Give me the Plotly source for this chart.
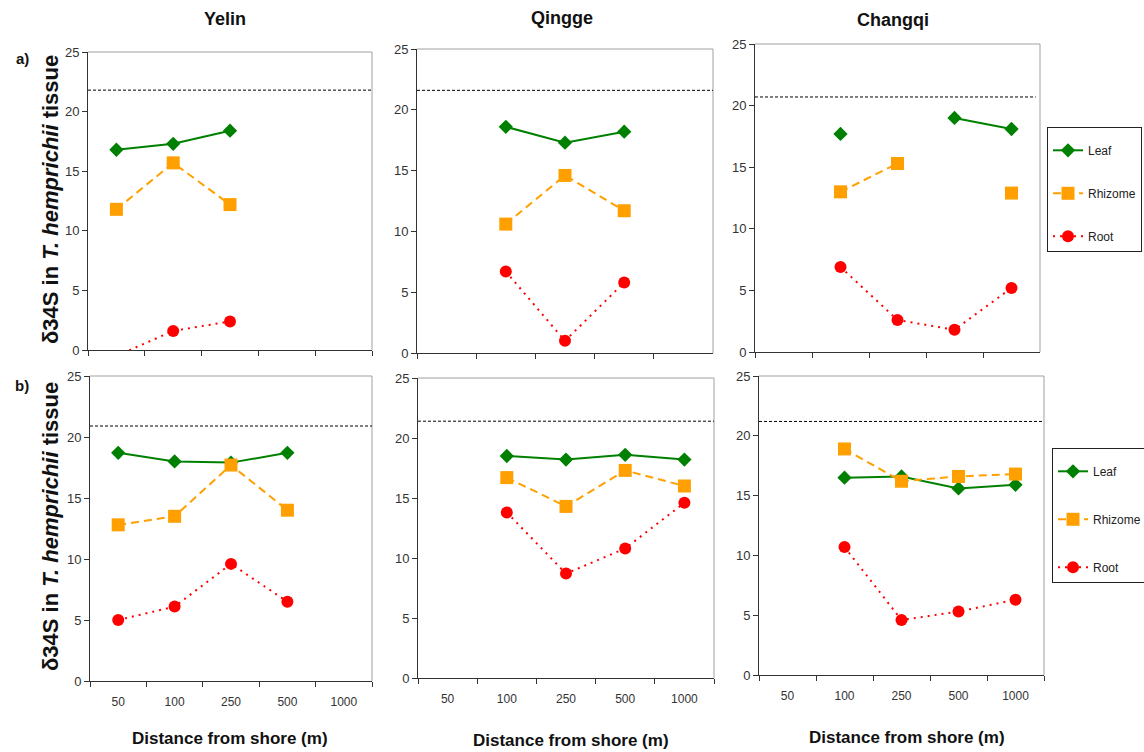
import plotly.graph_objects as go

W, H = 1144, 752

categories = ["50", "100", "250", "500", "1000"]
sites = ["Yelin", "Qingge", "Changqi"]
tissues = ["Leaf", "Rhizome", "Root"]
row_labels = ["a)", "b)"]

# Row a)
yelin_a_leaf = [16.8, 17.3, 18.4, None, None]
yelin_a_rhizome = [11.8, 15.7, 12.2, None, None]
yelin_a_root = [-0.5, 1.6, 2.4, None, None]
qingge_a_leaf = [None, 18.6, 17.3, 18.2, None]
qingge_a_rhizome = [None, 10.6, 14.6, 11.7, None]
qingge_a_root = [None, 6.7, 1.0, 5.8, None]
changqi_a_leaf = [None, 17.7, None, 19.0, 18.1]
changqi_a_rhizome = [None, 13.0, 15.3, None, 12.9]
changqi_a_root = [None, 6.9, 2.6, 1.8, 5.2]

# Row b)
yelin_b_leaf = [18.7, 18.0, 17.9, 18.7, None]
yelin_b_rhizome = [12.8, 13.5, 17.7, 14.0, None]
yelin_b_root = [5.0, 6.1, 9.6, 6.5, None]
qingge_b_leaf = [None, 18.5, 18.2, 18.6, 18.2]
qingge_b_rhizome = [None, 16.7, 14.3, 17.3, 16.0]
qingge_b_root = [None, 13.8, 8.7, 10.8, 14.6]
changqi_b_leaf = [None, 16.5, 16.6, 15.6, 15.9]
changqi_b_rhizome = [None, 18.9, 16.2, 16.6, 16.8]
changqi_b_root = [None, 10.7, 4.6, 5.3, 6.3]

# Reference (dashed) line values per panel
ref_a = [21.8, 21.6, 20.7]
ref_b = [20.9, 21.4, 21.2]

y_ticks = [0, 5, 10, 15, 20, 25]

panel_data = [
    (yelin_a_leaf, yelin_a_rhizome, yelin_a_root),
    (qingge_a_leaf, qingge_a_rhizome, qingge_a_root),
    (changqi_a_leaf, changqi_a_rhizome, changqi_a_root),
    (yelin_b_leaf, yelin_b_rhizome, yelin_b_root),
    (qingge_b_leaf, qingge_b_rhizome, qingge_b_root),
    (changqi_b_leaf, changqi_b_rhizome, changqi_b_root),
]
panel_refs = ref_a + ref_b

# Layout geometry (pixels)
panels_px = [
    (88, 372, 52, 350), (417, 713, 49, 353), (755, 1040, 44, 352),
    (90, 372, 376, 681), (418, 714, 378, 678), (759, 1044, 376, 675),
]

FONT = "Arial, Liberation Sans, Helvetica, sans-serif"
styles = {
    "Leaf": dict(color="#008000", symbol="diamond", size=11, dash="solid"),
    "Rhizome": dict(color="#FFA000", symbol="square", size=13, dash="8px,5px"),
    "Root": dict(color="#FF0000", symbol="circle", size=12, dash="2px,5px"),
}

fig = go.Figure()
layout = dict(
    width=W, height=H,
    margin=dict(l=0, r=0, t=0, b=0, autoexpand=False),
    paper_bgcolor="white", plot_bgcolor="white",
    font=dict(family=FONT, color="#222"),
    showlegend=True,
)
shapes = []
annotations = []

for i, (x0, x1, y0, y1) in enumerate(panels_px):
    n = i + 1
    xa = "x" if n == 1 else f"x{n}"
    ya = "y" if n == 1 else f"y{n}"
    bottom = i >= 3
    layout[f"xaxis{'' if n == 1 else n}"] = dict(
        domain=[x0 / W, x1 / W], anchor=ya,
        type="category", categoryorder="array", categoryarray=categories,
        range=[-0.5, 4.5], tickson="boundaries",
        ticks="outside", ticklen=5, tickcolor="#333", tickwidth=1,
        showticklabels=bottom, ticklabelstandoff=10,
        tickfont=dict(family=FONT, size=12, color="#333"),
        showline=True, linecolor="#333", linewidth=1,
        showgrid=False, zeroline=False, fixedrange=True,
    )
    layout[f"yaxis{'' if n == 1 else n}"] = dict(
        domain=[1 - y1 / H, 1 - y0 / H], anchor=xa,
        range=[0, 25], tickvals=y_ticks,
        ticks="outside", ticklen=5, tickcolor="#333", tickwidth=1,
        tickfont=dict(family=FONT, size=13, color="#333"),
        showline=True, linecolor="#333", linewidth=1,
        showgrid=False, zeroline=False, fixedrange=True,
    )
    # top & right plot-area border (light gray)
    shapes.append(dict(type="line", xref=f"{xa} domain", yref=f"{ya} domain",
                       x0=0, x1=1, y0=1, y1=1, line=dict(color="#a0a0a0", width=1)))
    shapes.append(dict(type="line", xref=f"{xa} domain", yref=f"{ya} domain",
                       x0=1, x1=1, y0=0, y1=1, line=dict(color="#a0a0a0", width=1)))
    # dashed reference line
    shapes.append(dict(type="line", xref=f"{xa} domain", yref=ya,
                       x0=0, x1=0.985 if i == 2 else 1,
                       y0=panel_refs[i], y1=panel_refs[i],
                       line=dict(color="#000", width=1, dash="3px,2px")))

    for tissue, vals in zip(tissues, panel_data[i]):
        st = styles[tissue]
        show = i in (2, 5)
        fig.add_trace(go.Scatter(
            x=categories, y=vals, mode="lines+markers", name=tissue,
            xaxis=xa, yaxis=ya,
            line=dict(color=st["color"], width=2, dash=st["dash"]),
            marker=dict(color=st["color"], symbol=st["symbol"], size=st["size"],
                        line=dict(width=0)),
            connectgaps=False, cliponaxis=True,
            showlegend=show, legend="legend" if i < 3 else "legend2",
            legendgroup=f"{tissue}{i // 3}",
        ))

# Titles
for name, (x, y) in zip(sites, [(225, 19), (562, 18), (893, 20)]):
    annotations.append(dict(text=f"<b>{name}</b>", x=x / W, y=1 - y / H, xref="paper", yref="paper",
                            showarrow=False, font=dict(family=FONT, size=18, color="#111"),
                            xanchor="center", yanchor="middle"))
for lab, (x, y) in zip(row_labels, [(22, 58), (22, 385)]):
    annotations.append(dict(text=f"<b>{lab}</b>", x=x / W, y=1 - y / H, xref="paper", yref="paper",
                            showarrow=False, font=dict(family=FONT, size=15, color="#111"),
                            xanchor="center", yanchor="middle"))
ytitle = "<b>δ34S in <i>T. hemprichii</i> tissue</b>"
for (x, y) in [(50, 200), (50, 527)]:
    annotations.append(dict(text=ytitle, x=x / W, y=1 - y / H, xref="paper", yref="paper",
                            showarrow=False, textangle=-90,
                            font=dict(family=FONT, size=22, color="#111"),
                            xanchor="center", yanchor="middle"))
for (x, y) in [(230, 738), (571, 740), (907, 737)]:
    annotations.append(dict(text="<b>Distance from shore (m)</b>", x=x / W, y=1 - y / H,
                            xref="paper", yref="paper", showarrow=False,
                            font=dict(family=FONT, size=17, color="#111"),
                            xanchor="center", yanchor="middle"))

layout["shapes"] = shapes
layout["annotations"] = annotations
spacer = dict(text=" ", font=dict(size=6))
layout["legend"] = dict(x=1047 / W, y=1 - 127 / H, xanchor="left", yanchor="top",
                        xref="paper", yref="paper", title=spacer,
                        bordercolor="#222", borderwidth=1, bgcolor="white",
                        font=dict(family=FONT, size=12, color="#222"),
                        tracegroupgap=24, traceorder="grouped")
layout["legend2"] = dict(x=1052 / W, y=1 - 448 / H, xanchor="left", yanchor="top",
                         xref="paper", yref="paper", title=spacer,
                         bordercolor="#222", borderwidth=1, bgcolor="white",
                         font=dict(family=FONT, size=12, color="#222"),
                         tracegroupgap=29, traceorder="grouped")

fig.update_layout(**layout)
fig.write_html("out.html", config={"displayModeBar": False},
               post_script="document.body.style.margin='0';document.body.style.overflow='hidden';")
